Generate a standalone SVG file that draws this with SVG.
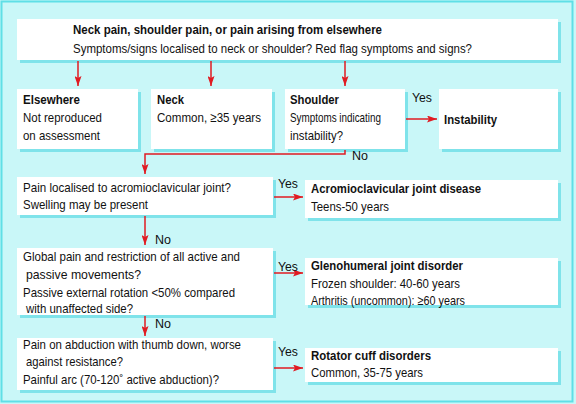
<svg xmlns="http://www.w3.org/2000/svg" width="576" height="404" viewBox="0 0 576 404">
<defs>
<style>
text{font-family:"Liberation Sans",Arial,sans-serif;font-size:13.5px;fill:#111}
.b{font-weight:bold}
.box{fill:#fff}
.sh{fill:#7fe3ea}
.ln{stroke:#e01b22;stroke-width:1.5;fill:none}
</style>
<marker id="ah" viewBox="0 0 10 7" refX="10" refY="3.5" markerWidth="11" markerHeight="7" markerUnits="userSpaceOnUse" orient="auto"><path d="M0,0 L10,3.5 L0,7 L2,3.5 Z" fill="#e01b22"/></marker>
</defs>
<rect x="0" y="0" width="576" height="404" fill="#c9f7f8"/>
<rect x="1.5" y="1.5" width="571" height="400" fill="none" stroke="#5fdfe6" stroke-width="2"/>
<g id="top"><rect class="sh" x="20" y="22" width="541" height="41"/><rect class="box" x="17" y="19" width="541" height="41"/>
<text class="b" x="73" y="34" textLength="309" lengthAdjust="spacingAndGlyphs">Neck pain, shoulder pain, or pain arising from elsewhere</text>
<text x="73" y="53" textLength="399" lengthAdjust="spacingAndGlyphs">Symptoms/signs localised to neck or shoulder? Red flag symptoms and signs?</text></g>
<g id="elsewhere"><rect class="sh" x="20" y="92" width="121" height="60"/><rect class="box" x="17" y="89" width="121" height="60"/>
<text class="b" x="23" y="104" textLength="57" lengthAdjust="spacingAndGlyphs">Elsewhere</text><text x="23" y="122" textLength="79" lengthAdjust="spacingAndGlyphs">Not reproduced</text><text x="23" y="140" textLength="77" lengthAdjust="spacingAndGlyphs">on assessment</text></g>
<g id="neck"><rect class="sh" x="154" y="92" width="121" height="60"/><rect class="box" x="151" y="89" width="121" height="60"/>
<text class="b" x="157" y="104" textLength="27" lengthAdjust="spacingAndGlyphs">Neck</text><text x="157" y="122" textLength="104" lengthAdjust="spacingAndGlyphs">Common, ≥35 years</text></g>
<g id="shoulder"><rect class="sh" x="288" y="92" width="120" height="60"/><rect class="box" x="285" y="89" width="120" height="60"/>
<text class="b" x="290" y="104" textLength="49" lengthAdjust="spacingAndGlyphs">Shoulder</text><text x="290" y="122" textLength="91" lengthAdjust="spacingAndGlyphs">Symptoms indicating</text><text x="290" y="140" textLength="53" lengthAdjust="spacingAndGlyphs">instability?</text></g>
<g id="instability"><rect class="sh" x="442" y="92" width="119" height="60"/><rect class="box" x="439" y="89" width="119" height="60"/>
<text class="b" x="444" y="124" textLength="53" lengthAdjust="spacingAndGlyphs">Instability</text></g>
<g id="acq"><rect class="sh" x="20" y="180" width="256" height="38"/><rect class="box" x="17" y="177" width="256" height="38"/>
<text x="23" y="192" textLength="208" lengthAdjust="spacingAndGlyphs">Pain localised to acromioclavicular joint?</text><text x="23" y="209" textLength="125" lengthAdjust="spacingAndGlyphs">Swelling may be present</text></g>
<g id="acd"><rect class="sh" x="308" y="183" width="253" height="38"/><rect class="box" x="305" y="180" width="253" height="38"/>
<text class="b" x="311" y="193" textLength="170" lengthAdjust="spacingAndGlyphs">Acromioclavicular joint disease</text><text x="311" y="211" textLength="78" lengthAdjust="spacingAndGlyphs">Teens-50 years</text></g>
<g id="ghq"><rect class="sh" x="20" y="251" width="256" height="67"/><rect class="box" x="17" y="248" width="256" height="67"/>
<text x="23" y="261" textLength="217" lengthAdjust="spacingAndGlyphs">Global pain and restriction of all active and</text><text x="26" y="279" textLength="115" lengthAdjust="spacingAndGlyphs">passive movements?</text><text x="23" y="297" textLength="212" lengthAdjust="spacingAndGlyphs">Passive external rotation &lt;50% compared</text><text x="26" y="313" textLength="107" lengthAdjust="spacingAndGlyphs">with unaffected side?</text></g>
<g id="ghd"><rect class="sh" x="308" y="261" width="253" height="47"/><rect class="box" x="305" y="258" width="253" height="47"/>
<text class="b" x="311" y="270" textLength="152" lengthAdjust="spacingAndGlyphs">Glenohumeral joint disorder</text><text x="311" y="288" textLength="149" lengthAdjust="spacingAndGlyphs">Frozen shoulder: 40-60 years</text><text x="311" y="305" textLength="154" lengthAdjust="spacingAndGlyphs">Arthritis (uncommon): ≥60 years</text></g>
<g id="rcq"><rect class="sh" x="20" y="341" width="256" height="52"/><rect class="box" x="17" y="338" width="256" height="52"/>
<text x="23" y="349" textLength="218" lengthAdjust="spacingAndGlyphs">Pain on abduction with thumb down, worse</text><text x="26" y="366" textLength="97" lengthAdjust="spacingAndGlyphs">against resistance?</text><text x="23" y="384" textLength="196" lengthAdjust="spacingAndGlyphs">Painful arc (70-120˚ active abduction)?</text></g>
<g id="rcd"><rect class="sh" x="308" y="351" width="253" height="34"/><rect class="box" x="305" y="348" width="253" height="34"/>
<text class="b" x="311" y="360" textLength="120" lengthAdjust="spacingAndGlyphs">Rotator cuff disorders</text><text x="311" y="377" textLength="112" lengthAdjust="spacingAndGlyphs">Common, 35-75 years</text></g>
<g id="connectors">
<line class="ln" x1="78" y1="61" x2="78" y2="86" marker-end="url(#ah)"/>
<line class="ln" x1="211" y1="61" x2="211" y2="86" marker-end="url(#ah)"/>
<line class="ln" x1="345" y1="61" x2="345" y2="86" marker-end="url(#ah)"/>
<line class="ln" x1="406" y1="119" x2="437" y2="119" marker-end="url(#ah)"/>
<polyline class="ln" points="345,150 345,154 145,154 145,174" marker-end="url(#ah)"/>
<line class="ln" x1="274" y1="197" x2="303" y2="197" marker-end="url(#ah)"/>
<line class="ln" x1="145" y1="216" x2="145" y2="245" marker-end="url(#ah)"/>
<line class="ln" x1="274" y1="273" x2="303" y2="273" marker-end="url(#ah)"/>
<line class="ln" x1="145" y1="316" x2="145" y2="336" marker-end="url(#ah)"/>
<line class="ln" x1="274" y1="368" x2="303" y2="368" marker-end="url(#ah)"/>
<text x="412" y="102" textLength="20" lengthAdjust="spacingAndGlyphs">Yes</text>
<text x="352" y="160" textLength="16" lengthAdjust="spacingAndGlyphs">No</text>
<text x="278" y="188" textLength="20" lengthAdjust="spacingAndGlyphs">Yes</text>
<text x="155" y="244" textLength="16" lengthAdjust="spacingAndGlyphs">No</text>
<text x="278" y="271" textLength="20" lengthAdjust="spacingAndGlyphs">Yes</text>
<text x="155" y="328" textLength="16" lengthAdjust="spacingAndGlyphs">No</text>
<text x="278" y="356" textLength="20" lengthAdjust="spacingAndGlyphs">Yes</text>
</g>
</svg>
